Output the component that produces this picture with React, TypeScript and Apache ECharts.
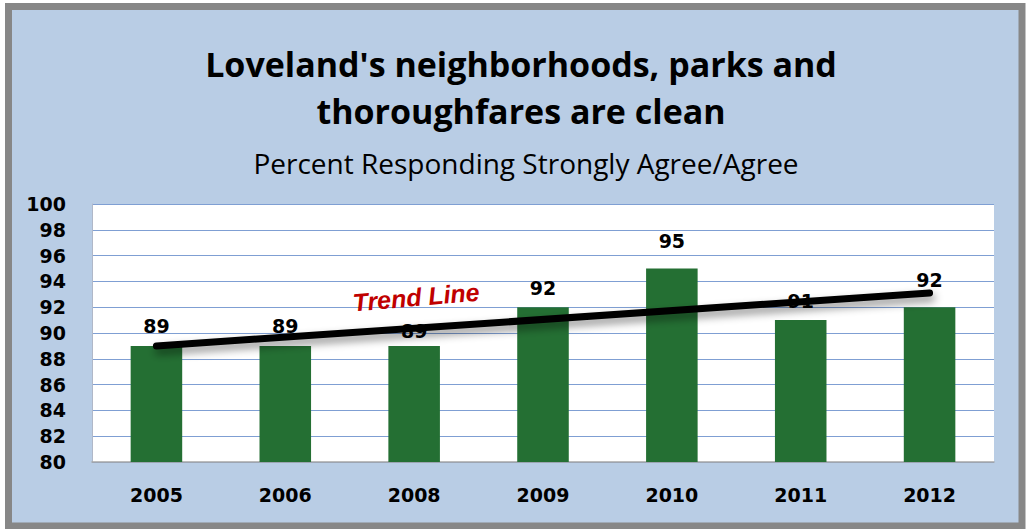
import React, { useEffect, useRef } from "react";
import * as echarts from "echarts";

const categories = ["2005", "2006", "2008", "2009", "2010", "2011", "2012"];
const values = [89, 89, 89, 92, 95, 91, 92];
const trendStart = 89.0;
const trendEnd = 93.1;
const titleText = "Loveland's neighborhoods, parks and\nthoroughfares are clean";
const subtitleText = "Percent Responding Strongly Agree/Agree";
const trendLabel = "Trend Line";

export default function App() {
  const ref = useRef<HTMLDivElement>(null);
  useEffect(() => {
    if (!ref.current) return;
    const chart = echarts.init(ref.current, undefined, { renderer: "svg" });
    const labelLift: Record<number, number> = { 2: 5, 4: 18, 6: 18 };
    const barData = values.map((v, i) => ({
      value: v,
      label: { distance: labelLift[i] ?? 10 },
    }));
    const trendData: any[] = categories.map(() => null);
    trendData[0] = trendStart;
    trendData[categories.length - 1] = trendEnd;
    chart.setOption({
      animation: false,
      backgroundColor: "#ffffff",
      graphic: [
        {
          type: "rect",
          z: -100,
          shape: { x: 8.5, y: 6.5, width: 1013.5, height: 519.5 },
          style: { fill: "#b9cde5", stroke: "#878787", lineWidth: 7 },
        },
        {
          type: "text",
          z: 100,
          x: 416,
          y: 297,
          rotation: (5 * Math.PI) / 180,
          style: {
            text: trendLabel,
            fill: "#c00000",
            font: "italic bold 25px 'Liberation Sans', Arial, sans-serif",
            align: "center",
            verticalAlign: "middle",
          },
        },
        {
          type: "text",
          z: 100,
          x: 521,
          y: 87,
          style: {
            text: titleText,
            fill: "#000",
            font: "bold 34px 'Open Sans'",
            lineHeight: 47,
            align: "center",
            verticalAlign: "middle",
          },
        },
        {
          type: "text",
          z: 100,
          x: 526,
          y: 163,
          style: {
            text: subtitleText,
            fill: "#000",
            font: "normal 28px 'Open Sans'",
            align: "center",
            verticalAlign: "middle",
          },
        },
      ],
      grid: {
        left: 92,
        right: 32,
        top: 204,
        bottom: 67,
        show: true,
        backgroundColor: "#ffffff",
        borderWidth: 0,
      },
      xAxis: {
        type: "category",
        data: categories,
        axisLine: { show: true, lineStyle: { color: "#a6a6a6", width: 1.5 } },
        axisTick: { show: false },
        axisLabel: {
          margin: 23,
          fontFamily: "DejaVu Sans",
          fontWeight: "bold",
          fontSize: 19,
          color: "#000",
        },
      },
      yAxis: {
        type: "value",
        min: 80,
        max: 100,
        interval: 2,
        axisLine: { show: true, lineStyle: { color: "#b0b8c8", width: 1 } },
        axisTick: { show: false },
        splitLine: { show: true, lineStyle: { color: "#7f9fd3", width: 1.2 } },
        axisLabel: {
          margin: 26,
          fontFamily: "DejaVu Sans",
          fontWeight: "bold",
          fontSize: 19,
          color: "#000",
        },
      },
      series: [
        {
          type: "bar",
          data: barData,
          barWidth: "40%",
          itemStyle: { color: "#246f33" },
          label: {
            show: true,
            position: "top",
            fontFamily: "DejaVu Sans",
            fontWeight: "bold",
            fontSize: 19,
            color: "#000",
          },
          z: 2,
        },
        {
          type: "line",
          data: trendData,
          connectNulls: true,
          symbol: "none",
          z: 5,
          lineStyle: {
            color: "#000",
            width: 7,
            cap: "round",
            shadowColor: "rgba(0,0,0,0.45)",
            shadowBlur: 8,
            shadowOffsetY: 5,
            shadowOffsetX: 2,
          },
        },
      ],
    });
    return () => chart.dispose();
  }, []);
  return (
    <div
      ref={ref}
      style={{ position: "fixed", left: 0, top: 0, width: 1026, height: 529 }}
    />
  );
}
